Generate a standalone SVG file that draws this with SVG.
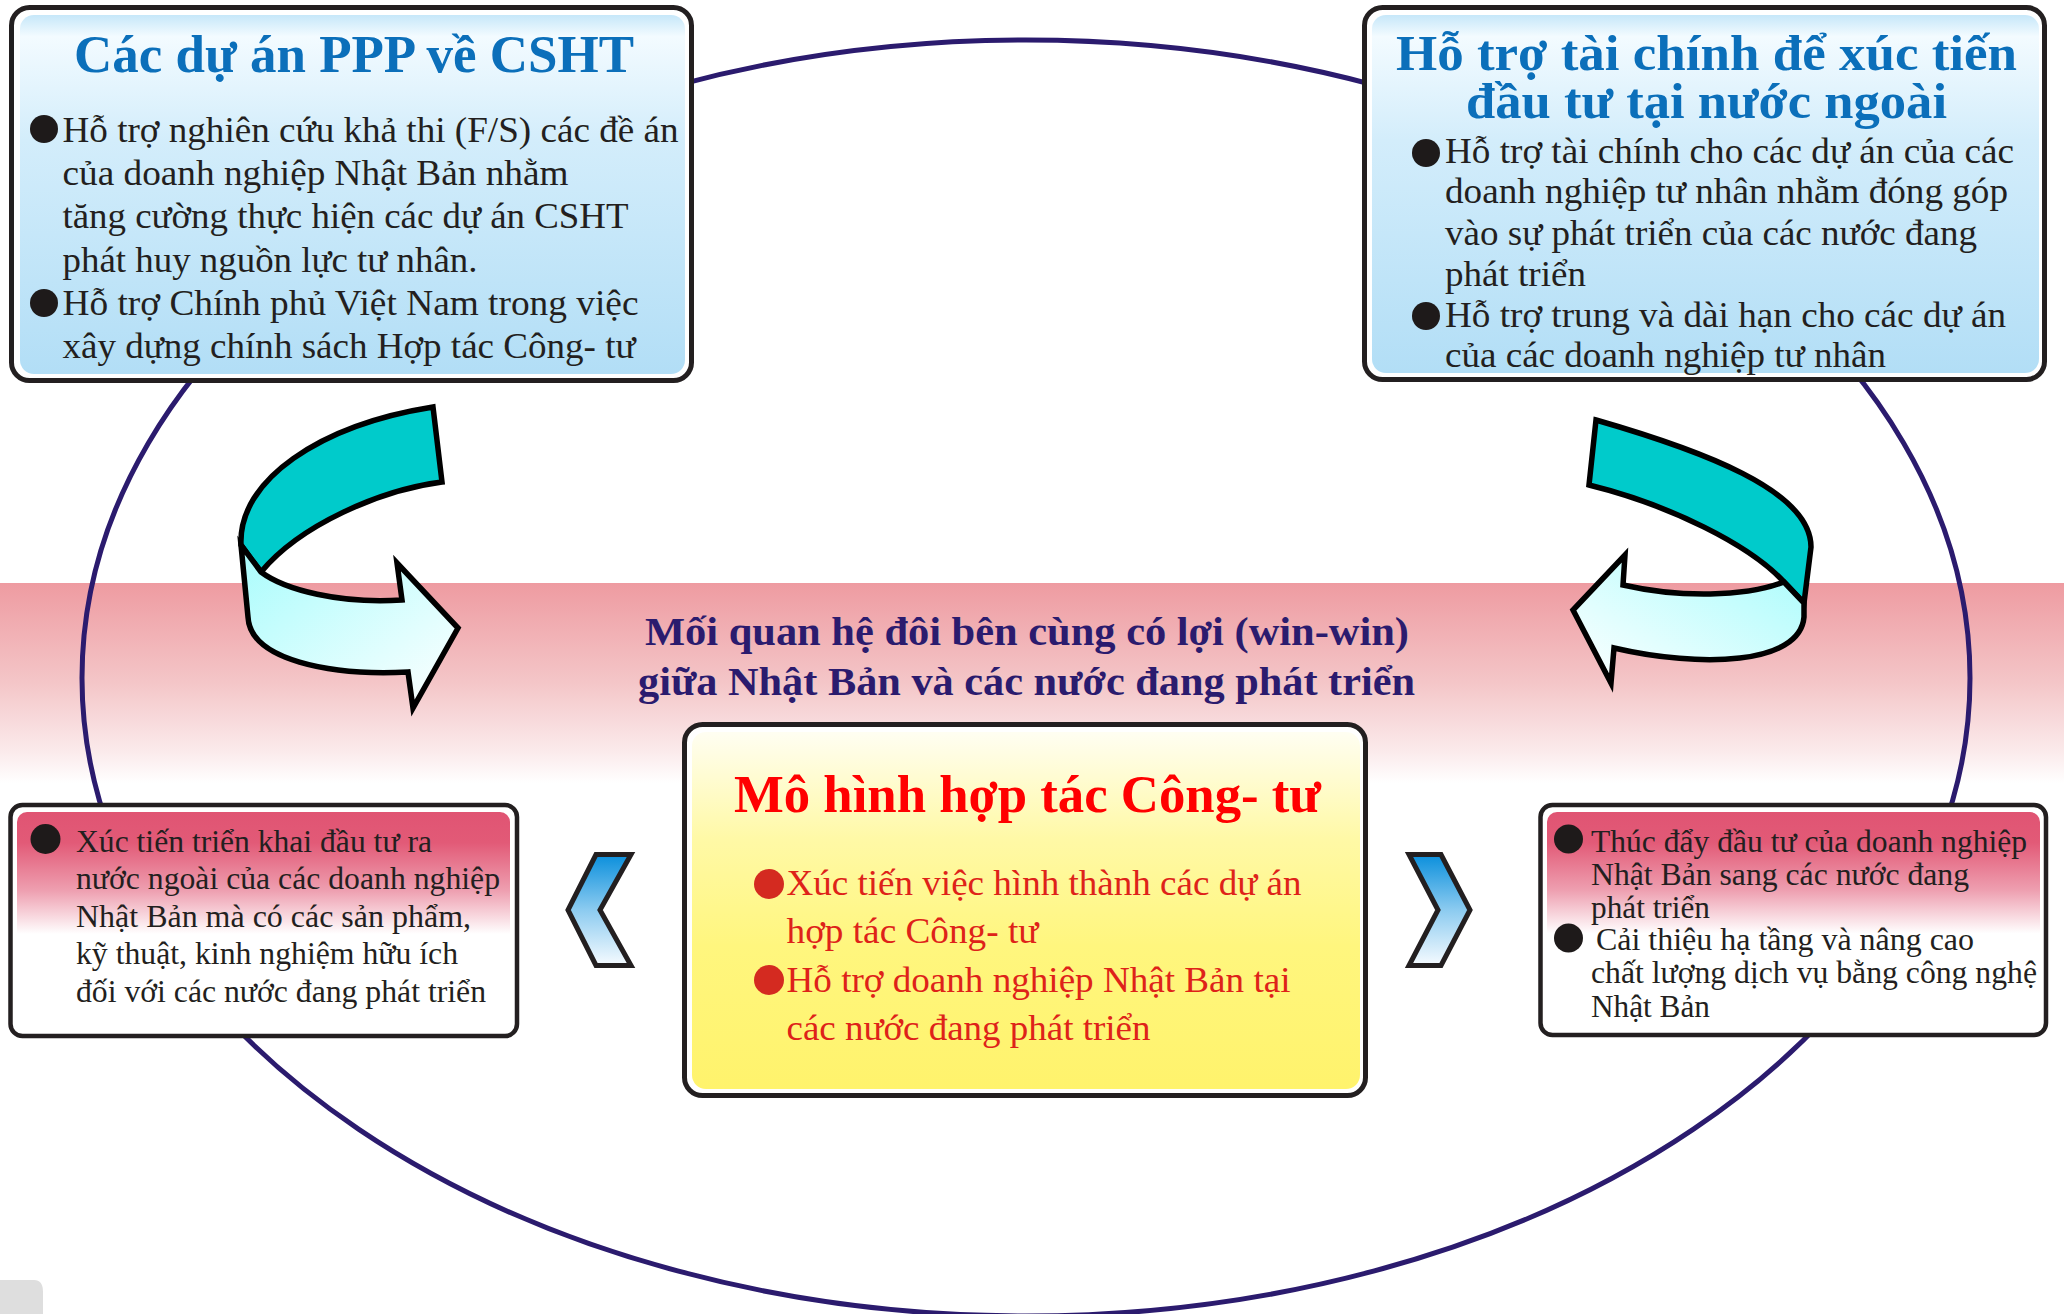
<svg xmlns="http://www.w3.org/2000/svg" width="2064" height="1314" viewBox="0 0 2064 1314">
<defs>
<linearGradient id="band" x1="0" y1="0" x2="0" y2="1">
<stop offset="0" stop-color="#ee9ba1"/><stop offset="0.5" stop-color="#f4c6c8"/><stop offset="0.85" stop-color="#fbebec"/><stop offset="1" stop-color="#ffffff"/>
</linearGradient>
<linearGradient id="blue" x1="0" y1="0" x2="0" y2="1">
<stop offset="0" stop-color="#c6e7f9"/><stop offset="0.06" stop-color="#f3fbff"/><stop offset="0.35" stop-color="#d3edfb"/><stop offset="1" stop-color="#b2def6"/>
</linearGradient>
<linearGradient id="pinkL" x1="0" y1="0" x2="0" y2="1">
<stop offset="0" stop-color="#e05473"/><stop offset="0.14" stop-color="#e25a77"/><stop offset="0.36" stop-color="#ee9fb0"/><stop offset="0.56" stop-color="#ffffff"/>
</linearGradient>
<linearGradient id="yellow" x1="0" y1="0" x2="0" y2="1">
<stop offset="0" stop-color="#fffef2"/><stop offset="0.3" stop-color="#fff9a6"/><stop offset="0.6" stop-color="#fff67e"/><stop offset="1" stop-color="#fff36c"/>
</linearGradient>
<linearGradient id="chev" x1="0" y1="0" x2="0" y2="1">
<stop offset="0" stop-color="#0a8fdc"/><stop offset="0.5" stop-color="#8ccbf0"/><stop offset="1" stop-color="#f6fbff"/>
</linearGradient>
<linearGradient id="lightL" x1="0" y1="0" x2="1" y2="1">
<stop offset="0" stop-color="#a8fcfc"/><stop offset="1" stop-color="#ffffff"/>
</linearGradient>
<linearGradient id="lightR" x1="1" y1="0" x2="0" y2="1">
<stop offset="0" stop-color="#a8fcfc"/><stop offset="1" stop-color="#ffffff"/>
</linearGradient>
</defs>
<style>
.frame{fill:#ffffff;stroke:#231f20;stroke-width:5}
.frame2{fill:#ffffff;stroke:#231f20;stroke-width:4.5}
.ttl{font-family:"Liberation Serif","Times New Roman",serif;font-weight:bold}
.blueT{fill:#0b6fba;font-size:53px}
.blueT2{fill:#0b6fba;font-size:50px}
.body{font-family:"Liberation Serif","Times New Roman",serif;fill:#231f20}
.b35{font-size:35px}
.b31{font-size:31px}
.navy{fill:#2b1b6e;font-size:40px}
.redT{fill:#ff0000;font-size:52px}
.redB{font-family:"Liberation Serif","Times New Roman",serif;fill:#de2219;font-size:35px}
.dot{fill:#1e1a1a}
.rdot{fill:#d42a20}
.ell{fill:none;stroke:#2b1b6e;stroke-width:5}
.arw{stroke:#000000;stroke-width:5.5;stroke-linejoin:miter}
.chv{fill:url(#chev);stroke:#231f20;stroke-width:5;stroke-linejoin:miter}
</style>
<rect x="0" y="0" width="2064" height="1314" fill="#ffffff"/>
<rect id="band-bg" x="0" y="583" width="2064" height="200" fill="url(#band)"/>
<path d="M0,1280 H34 Q43,1280 43,1292 V1314 H0 Z" fill="#dedede"/>

<g id="connectors">
<ellipse class="ell" cx="1026" cy="678" rx="944" ry="638"/>
<g id="arrow-left">
<path class="arw" fill="#00cbcb" d="M433,407 L442,482 C380,490 300,525 261,572 L241,545 C238,480 320,425 433,407 Z"/>
<path class="arw" fill="url(#lightL)" d="M261,572 C285,590 340,604 402,600 L397,563 L458,628 L413,708 L408,672 C330,676 250,660 248,617 L241,545 Z"/>
</g>
<g id="arrow-right">
<path class="arw" fill="#00cbcb" d="M1596,420 C1700,450 1811,490 1811,547 L1804,603 L1784,582 C1750,545 1670,505 1589,485 Z"/>
<path class="arw" fill="url(#lightR)" d="M1784,582 C1745,597 1680,598 1623,585 L1625,555 L1573,610 L1611,683 L1614,648 C1700,668 1800,665 1804,617 L1804,603 Z"/>
</g>
<polygon id="chevron-left" class="chv" points="596,854.5 631,854.5 600,910 631,965.5 596,965.5 568,910"/>
<polygon id="chevron-right" class="chv" points="1409,854.5 1441,854.5 1470,910 1441,965.5 1409,965.5 1438,910"/>
</g>

<g id="node-ppp">
<rect class="frame" x="11.5" y="7.5" width="680" height="373" rx="18"/>
<rect x="20" y="15" width="665" height="359" rx="14" fill="url(#blue)"/>
<text class="ttl blueT" x="74" y="72" textLength="560" lengthAdjust="spacingAndGlyphs">Các dự án PPP về CSHT</text>
<circle class="dot" cx="44" cy="129" r="14"/>
<circle class="dot" cx="44" cy="303" r="14"/>
<text class="body b35" x="62.5" y="142" textLength="616" lengthAdjust="spacingAndGlyphs">Hỗ trợ nghiên cứu khả thi (F/S) các đề án</text>
<text class="body b35" x="62.5" y="185" textLength="506" lengthAdjust="spacingAndGlyphs">của doanh nghiệp Nhật Bản nhằm</text>
<text class="body b35" x="62.5" y="228" textLength="566" lengthAdjust="spacingAndGlyphs">tăng cường thực hiện các dự án CSHT</text>
<text class="body b35" x="62.5" y="272" textLength="415" lengthAdjust="spacingAndGlyphs">phát huy nguồn lực tư nhân.</text>
<text class="body b35" x="62.5" y="315" textLength="576" lengthAdjust="spacingAndGlyphs">Hỗ trợ Chính phủ Việt Nam trong việc</text>
<text class="body b35" x="62.5" y="358" textLength="573" lengthAdjust="spacingAndGlyphs">xây dựng chính sách Hợp tác Công- tư</text>
</g>

<g id="node-finance">
<rect class="frame" x="1364.5" y="7.5" width="680" height="372" rx="18"/>
<rect x="1372" y="15" width="667" height="358" rx="14" fill="url(#blue)"/>
<text class="ttl blueT2" x="1396" y="70" textLength="621" lengthAdjust="spacingAndGlyphs">Hỗ trợ tài chính để xúc tiến</text>
<text class="ttl blueT2" x="1466" y="118" textLength="481" lengthAdjust="spacingAndGlyphs">đầu tư tại nước ngoài</text>
<circle class="dot" cx="1426" cy="153" r="14"/>
<circle class="dot" cx="1426" cy="316" r="14"/>
<text class="body b35" x="1445" y="163" textLength="569" lengthAdjust="spacingAndGlyphs">Hỗ trợ tài chính cho các dự án của các</text>
<text class="body b35" x="1445" y="203" textLength="563" lengthAdjust="spacingAndGlyphs">doanh nghiệp tư nhân nhằm đóng góp</text>
<text class="body b35" x="1445" y="245" textLength="532" lengthAdjust="spacingAndGlyphs">vào sự phát triển của các nước đang</text>
<text class="body b35" x="1445" y="286" textLength="141" lengthAdjust="spacingAndGlyphs">phát triển</text>
<text class="body b35" x="1445" y="327" textLength="561" lengthAdjust="spacingAndGlyphs">Hỗ trợ trung và dài hạn cho các dự án</text>
<text class="body b35" x="1445" y="367" textLength="441" lengthAdjust="spacingAndGlyphs">của các doanh nghiệp tư nhân</text>
</g>

<g id="node-winwin">
<text class="ttl navy" x="645" y="645" textLength="764" lengthAdjust="spacingAndGlyphs">Mối quan hệ đôi bên cùng có lợi (win-win)</text>
<text class="ttl navy" x="638" y="695" textLength="777" lengthAdjust="spacingAndGlyphs">giữa Nhật Bản và các nước đang phát triển</text>
</g>

<g id="node-model">
<rect class="frame" x="684.5" y="724.5" width="681" height="371" rx="18"/>
<rect x="692" y="732" width="668" height="357" rx="14" fill="url(#yellow)"/>
<text class="ttl redT" x="734" y="812" textLength="587" lengthAdjust="spacingAndGlyphs">Mô hình hợp tác Công- tư</text>
<circle class="rdot" cx="769" cy="884" r="15"/>
<circle class="rdot" cx="769" cy="980" r="15"/>
<text class="redB" x="786.5" y="895" textLength="515" lengthAdjust="spacingAndGlyphs">Xúc tiến việc hình thành các dự án</text>
<text class="redB" x="786.5" y="943" textLength="252" lengthAdjust="spacingAndGlyphs">hợp tác Công- tư</text>
<text class="redB" x="786.5" y="992" textLength="504" lengthAdjust="spacingAndGlyphs">Hỗ trợ doanh nghiệp Nhật Bản tại</text>
<text class="redB" x="786.5" y="1040" textLength="364" lengthAdjust="spacingAndGlyphs">các nước đang phát triển</text>
</g>

<g id="node-outward">
<rect class="frame2" x="10.5" y="805" width="506.5" height="231" rx="12"/>
<rect x="17" y="812" width="493" height="218" rx="10" fill="url(#pinkL)"/>
<circle class="dot" cx="45.5" cy="839" r="15"/>
<text class="body b31" x="76" y="852" textLength="356" lengthAdjust="spacingAndGlyphs">Xúc tiến triển khai đầu tư ra</text>
<text class="body b31" x="76" y="889" textLength="424" lengthAdjust="spacingAndGlyphs">nước ngoài của các doanh nghiệp</text>
<text class="body b31" x="76" y="927" textLength="395" lengthAdjust="spacingAndGlyphs">Nhật Bản mà có các sản phẩm,</text>
<text class="body b31" x="76" y="964" textLength="382" lengthAdjust="spacingAndGlyphs">kỹ thuật, kinh nghiệm hữu ích</text>
<text class="body b31" x="76" y="1002" textLength="410" lengthAdjust="spacingAndGlyphs">đối với các nước đang phát triển</text>
</g>

<g id="node-promote">
<rect class="frame2" x="1540.5" y="805" width="505.5" height="230" rx="12"/>
<rect x="1547" y="812" width="493" height="217" rx="10" fill="url(#pinkL)"/>
<circle class="dot" cx="1568.5" cy="839" r="14.5"/>
<circle class="dot" cx="1568.5" cy="938" r="14.5"/>
<text class="body b31" x="1591" y="852" textLength="436" lengthAdjust="spacingAndGlyphs">Thúc đẩy đầu tư của doanh nghiệp</text>
<text class="body b31" x="1591" y="885" textLength="378" lengthAdjust="spacingAndGlyphs">Nhật Bản sang các nước đang</text>
<text class="body b31" x="1591" y="918" textLength="119" lengthAdjust="spacingAndGlyphs">phát triển</text>
<text class="body b31" x="1596" y="950" textLength="378" lengthAdjust="spacingAndGlyphs">Cải thiệu hạ tầng và nâng cao</text>
<text class="body b31" x="1591" y="983" textLength="446" lengthAdjust="spacingAndGlyphs">chất lượng dịch vụ bằng công nghệ</text>
<text class="body b31" x="1591" y="1017" textLength="119" lengthAdjust="spacingAndGlyphs">Nhật Bản</text>
</g>
</svg>
